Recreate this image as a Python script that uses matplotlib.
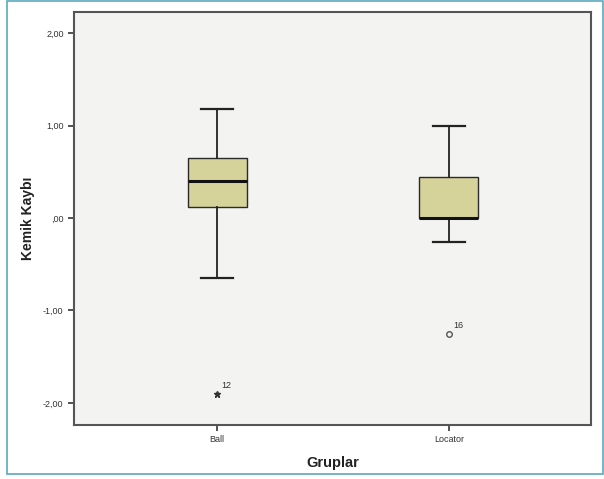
import matplotlib
matplotlib.use('Agg')
import matplotlib.pyplot as plt
from matplotlib.patches import Rectangle

plt.rcParams['font.family'] = ['Liberation Sans', 'DejaVu Sans']

groups = ["Ball", "Locator"]
whisker_low = [-0.65, -0.26]
q1 = [0.12, 0.00]
median = [0.40, 0.00]
q3 = [0.65, 0.45]
whisker_high = [1.18, 1.00]
outliers = [[-1.90], [-1.25]]
outlier_ids = ["12", "16"]
outlier_markers = ["*", "o"]
yticks = [-2, -1, 0, 1, 2]
ytick_labels = ["-2,00", "-1,00", ",00", "1,00", "2,00"]

fig = plt.figure(figsize=(6.04, 4.79), dpi=100)
fig.patches.append(Rectangle((0.012, 0.01), 0.986, 0.988, transform=fig.transFigure,
                             fill=False, edgecolor='#5aa9bd', lw=1.2))
ax = fig.add_axes([0.1225, 0.1127, 0.856, 0.862])
ax.set_facecolor('#f3f3f2')

stats = []
for i in range(len(groups)):
    stats.append(dict(whislo=whisker_low[i], q1=q1[i], med=median[i], q3=q3[i],
                      whishi=whisker_high[i], fliers=[], label=groups[i]))

pos = [1, 2]
ax.bxp(stats, positions=pos, widths=0.255, patch_artist=True, showfliers=False,
       boxprops=dict(facecolor='#d5d39a', edgecolor='#2a2a2a', lw=1.0),
       medianprops=dict(color='#111111', lw=2.2),
       whiskerprops=dict(color='#222222', lw=1.3),
       capprops=dict(color='#222222', lw=1.6), capwidths=0.14)

for i in range(len(groups)):
    for v in outliers[i]:
        if outlier_markers[i] == '*':
            ax.plot(pos[i], v, marker='*', ms=5, color='#333333', ls='none')
        else:
            ax.plot(pos[i], v, marker='o', ms=4, mfc='none', mec='#555555', mew=1.0, ls='none')
        ax.annotate(outlier_ids[i], (pos[i], v), xytext=(3, 4), textcoords='offset points',
                    fontsize=6.5, color='#333333')

ax.set_xlim(0.382, 2.614)
ax.set_ylim(-2.24, 2.23)
ax.set_yticks(yticks)
ax.set_yticklabels(ytick_labels, fontsize=6.5, color='#333333')
ax.set_xticks(pos)
ax.set_xticklabels(groups, fontsize=6.5, color='#333333')
ax.tick_params(axis='both', length=4, width=1.2, color='#333333')

for s in ax.spines.values():
    s.set_color('#555555')
    s.set_linewidth(1.5)

ax.set_ylabel('Kemik Kaybı', fontsize=10, fontweight='bold', color='#222222', labelpad=6)
ax.set_xlabel('Gruplar', fontsize=10.5, fontweight='bold', color='#222222', labelpad=8)

fig.savefig('out.png', dpi=100)
